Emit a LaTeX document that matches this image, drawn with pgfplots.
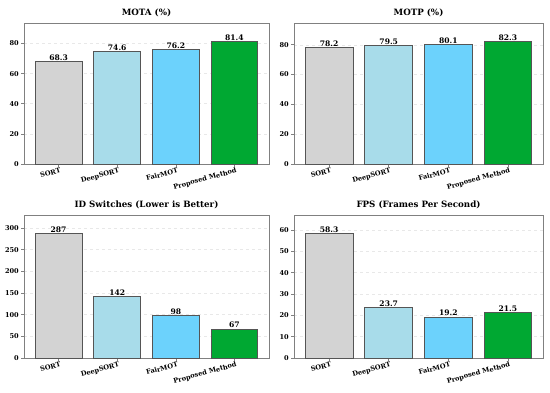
\documentclass[border=0pt]{standalone}
\usepackage{pgfplots}
\pgfplotsset{compat=1.18}
\usepackage{fontspec}
\setmainfont{DejaVu Serif}
\definecolor{cSORT}{HTML}{D3D3D3}
\definecolor{cDeep}{HTML}{A8DCEA}
\definecolor{cFair}{HTML}{6CD2FC}
\definecolor{cProp}{HTML}{00A832}
\definecolor{edgec}{HTML}{555555}
\definecolor{spine}{HTML}{808080}
\pgfplotsset{
  panel/.style={
    scale only axis,
    xmin=-0.59, xmax=3.59, ymin=0,
    xtick={0,1,2,3},
    xticklabels={SORT,DeepSORT,FairMOT,Proposed Method},
    xticklabel style={rotate=15, anchor=north east, inner sep=0.8pt, xshift=2pt, font=\fontsize{6.6}{8}\selectfont\bfseries},
    yticklabel style={font=\fontsize{6.6}{8}\selectfont\bfseries, inner sep=2pt},
    /pgf/number format/assume math mode=true,
    tick align=outside, tick pos=left,
    major tick length=3pt,
    every tick/.style={spine, line width=0.6pt},
    axis line style={spine, line width=0.8pt},
    ymajorgrids, grid style={dashed, gray!18, line width=0.5pt},
    title style={font=\fontsize{8.7}{10}\selectfont\bfseries, yshift=-3pt},
    nodes near coords,
    point meta=explicit symbolic,
    every node near coord/.style={font=\fontsize{7.6}{8}\selectfont\bfseries, anchor=south, inner sep=0.6pt},
    clip=false,
  },
  bar/.style={ybar, bar shift=0pt, bar width=0.8, draw=edgec, line width=0.8pt, fill=#1},
}
\begin{document}
\begin{tikzpicture}[x=1pt,y=1pt]
\useasboundingbox (0,0) rectangle (550,392);
% MOTA
\begin{axis}[panel, at={(24pt,228pt)}, anchor=south west, width=245pt, height=141pt,
  ymax=93.6, ytick={0,20,40,60,80}, title={MOTA (\%)}]
\addplot[bar=cSORT] coordinates {(0,68.3) [68.3]};
\addplot[bar=cDeep] coordinates {(1,74.6) [74.6]};
\addplot[bar=cFair] coordinates {(2,76.2) [76.2]};
\addplot[bar=cProp] coordinates {(3,81.4) [81.4]};
\end{axis}
% MOTP
\begin{axis}[panel, at={(294pt,228pt)}, anchor=south west, width=249pt, height=141pt,
  ymax=94.6, ytick={0,20,40,60,80}, title={MOTP (\%)}]
\addplot[bar=cSORT] coordinates {(0,78.2) [78.2]};
\addplot[bar=cDeep] coordinates {(1,79.5) [79.5]};
\addplot[bar=cFair] coordinates {(2,80.1) [80.1]};
\addplot[bar=cProp] coordinates {(3,82.3) [82.3]};
\end{axis}
% ID switches
\begin{axis}[panel, at={(24pt,34pt)}, anchor=south west, width=245pt, height=143pt,
  ymax=330, ytick={0,50,100,150,200,250,300}, title={ID Switches (Lower is Better)}]
\addplot[bar=cSORT] coordinates {(0,287) [287]};
\addplot[bar=cDeep] coordinates {(1,142) [142]};
\addplot[bar=cFair] coordinates {(2,98) [98]};
\addplot[bar=cProp] coordinates {(3,67) [67]};
\end{axis}
% FPS
\begin{axis}[panel, at={(294pt,34pt)}, anchor=south west, width=249pt, height=143pt,
  ymax=67, ytick={0,10,20,30,40,50,60}, title={FPS (Frames Per Second)}]
\addplot[bar=cSORT] coordinates {(0,58.3) [58.3]};
\addplot[bar=cDeep] coordinates {(1,23.7) [23.7]};
\addplot[bar=cFair] coordinates {(2,19.2) [19.2]};
\addplot[bar=cProp] coordinates {(3,21.5) [21.5]};
\end{axis}
\end{tikzpicture}
\end{document}
